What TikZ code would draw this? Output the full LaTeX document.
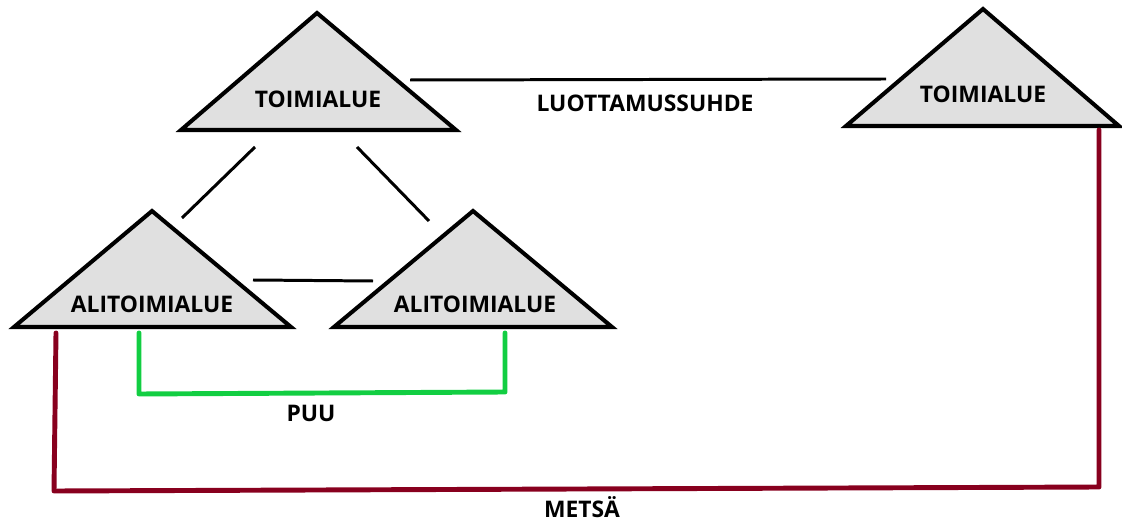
\documentclass[tikz,border=0pt]{standalone}
\usepackage{fontspec}
\setmainfont{Open Sans}
\usetikzlibrary{positioning}

\definecolor{domaingray}{RGB}{224,224,224}
\definecolor{treegreen}{RGB}{18,206,66}
\definecolor{forestred}{RGB}{136,0,30}

\tikzset{
  domaintri/.style={draw=black, fill=domaingray, line width=2.3pt, line join=miter},
  trust/.style={draw=black, line width=1.7pt},
  tree/.style={draw=treegreen, line width=2.8pt, line join=round, line cap=round},
  forest/.style={draw=forestred, line width=2.8pt, line join=round, line cap=round},
  lbl/.style={font=\bfseries\fontsize{13}{15}\selectfont, inner sep=0pt}
}

\begin{document}
\begin{tikzpicture}[x=0.02cm, y=-0.02cm]
  \useasboundingbox (0,0) rectangle (1122,523);
  % triangle corners
  \coordinate (ta) at (317,13);
  \coordinate (tl) at (181,130);
  \coordinate (tr) at (456,130);
  \coordinate (ra) at (983,9);
  \coordinate (rl) at (846,126);
  \coordinate (rr) at (1119,126);
  \coordinate (aa) at (152,211);
  \coordinate (al) at (14,327);
  \coordinate (ar) at (291,327);
  \coordinate (ba) at (473,211);
  \coordinate (bl) at (334,327);
  \coordinate (br) at (612,327);
  \draw[domaintri] (ta) -- (tl) -- (tr) -- cycle;
  \draw[domaintri] (ra) -- (rl) -- (rr) -- cycle;
  \draw[domaintri] (aa) -- (al) -- (ar) -- cycle;
  \draw[domaintri] (ba) -- (bl) -- (br) -- cycle;
  \node[lbl] (top) at (318,99) {TOIMIALUE};
  \node[lbl] (right) at (983,94) {TOIMIALUE};
  \node[lbl] (subA) at (152,304) {ALITOIMIALUE};
  \node[lbl] (subB) at (475,304) {ALITOIMIALUE};
  % connector ends
  \coordinate (t1) at (410,80);
  \coordinate (t2) at (886,79);
  \coordinate (d1) at (255,147);
  \coordinate (d2) at (182,218);
  \coordinate (d3) at (357,147);
  \coordinate (d4) at (429,221);
  \coordinate (m1) at (253,280);
  \coordinate (m2) at (373,281);
  \coordinate (g1) at (139,333);
  \coordinate (g2) at (505,333);
  \coordinate (f1) at (56,333);
  \coordinate (f2) at (1099,130);
  \draw[trust] (t1) -- (t2);
  \draw[trust] (d1) -- (d2);
  \draw[trust] (d3) -- (d4);
  \draw[trust] (m1) -- (m2);
  \draw[tree] (g1) -- (139,394) -- (505,392) -- (g2);
  \draw[forest] (f1) -- (54,491) -- (1099,487) -- (f2);
  \node[lbl] (trustlbl) at (645,103) {LUOTTAMUSSUHDE};
  \node[lbl] (treelbl) at (311,413) {PUU};
  \node[lbl] (forestlbl) at (582,507) {METSÄ};
\end{tikzpicture}
\end{document}
